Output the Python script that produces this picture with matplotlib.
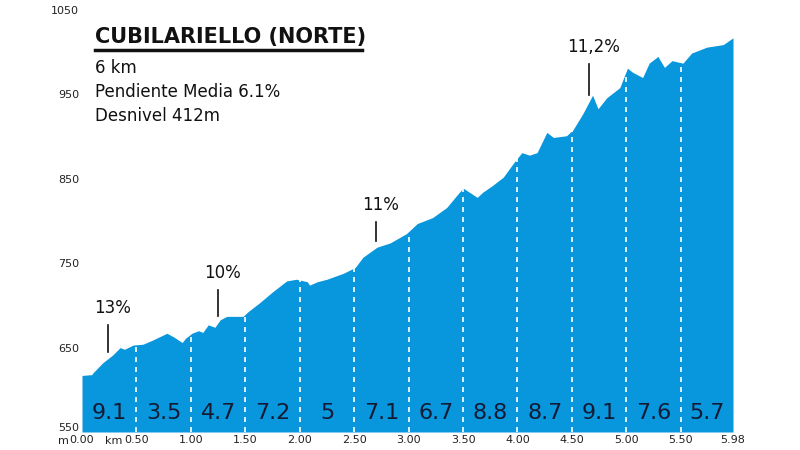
import numpy as np
import matplotlib
matplotlib.use('Agg')
import matplotlib.pyplot as plt
from matplotlib.transforms import ScaledTranslation

# profile (km, m)
dist_km = [0.00, 0.09, 0.10, 0.19, 0.28, 0.35, 0.39, 0.47, 0.56, 0.65, 0.78, 0.85,
           0.92, 0.95, 1.01, 1.07, 1.11, 1.16, 1.22, 1.27, 1.33, 1.48, 1.52, 1.63,
           1.75, 1.88, 1.97, 2.07, 2.09, 2.16, 2.25, 2.40, 2.51, 2.58, 2.71, 2.83,
           2.98, 3.08, 3.22, 3.35, 3.44, 3.50, 3.56, 3.63, 3.68, 3.77, 3.87, 3.96,
           4.04, 4.11, 4.18, 4.27, 4.33, 4.45, 4.51, 4.60, 4.69, 4.74, 4.82, 4.94,
           5.01, 5.06, 5.15, 5.21, 5.29, 5.35, 5.42, 5.52, 5.60, 5.74, 5.89, 5.98]
elev_m = [617, 618, 620, 632, 641, 650, 648, 653, 654, 659, 667, 662,
          656, 661, 667, 670, 668, 677, 674, 683, 687, 687, 692, 703,
          716, 729, 731, 728, 724, 728, 731, 738, 745, 757, 769, 774,
          785, 797, 804, 816, 830, 839, 834, 828, 834, 842, 852, 868,
          881, 878, 881, 905, 899, 901, 908, 927, 949, 933, 946, 958,
          981, 976, 970, 987, 995, 982, 990, 987, 999, 1006, 1009, 1017]

# gradient per 0.5 km section
seg_start = [0.0, 0.5, 1.0, 1.5, 2.0, 2.5, 3.0, 3.5, 4.0, 4.5, 5.0, 5.5]
seg_grade = ['9.1', '3.5', '4.7', '7.2', '5', '7.1', '6.7', '8.8', '8.7', '9.1', '7.6', '5.7']

# max-gradient call-outs: label, km, text elevation
peak_labels = ['13%', '10%', '11%', '11,2%']
peak_km = [0.24, 1.25, 2.70, 4.66]
peak_text_m = [697, 738, 819, 1006]

x_ticks = [0.0, 0.5, 1.0, 1.5, 2.0, 2.5, 3.0, 3.5, 4.0, 4.5, 5.0, 5.5, 5.98]
y_ticks = [550, 650, 750, 850, 950, 1050]
total_km = 5.98

fig = plt.figure(figsize=(8, 4.5), dpi=100)
ax = fig.add_axes([82 / 800, 18 / 450, 651 / 800, 422 / 450])

blue = '#0896dc'
ax.fill_between(dist_km, 550, elev_m, color=blue, lw=0)

# dashed white section lines
tops = np.interp(seg_start[1:], dist_km, elev_m)
ax.vlines(seg_start[1:], 550, tops, colors='white', linestyles=(0, (3, 3)), lw=1.2)

# section gradients
ends = seg_start[1:] + [total_km]
for s, e, g in zip(seg_start, ends, seg_grade):
    ax.text((s + e) / 2, 573, g, ha='center', va='center',
            fontsize=16, color='#141a33')

# call-outs
for lab, km, ty in zip(peak_labels, peak_km, peak_text_m):
    ax.text(km + 0.04, ty, lab, ha='center', va='center', fontsize=12, color='#111111')
    base = np.interp(km, dist_km, elev_m)
    ax.plot([km, km], [ty - 20, base + 8], color='#111111', lw=1.2)

ax.set_xlim(0, total_km)
ax.set_ylim(550, 1050)
ax.set_xticks(x_ticks)
ax.set_xticklabels(['%.2f' % v for v in x_ticks])
ax.set_yticks(y_ticks)
ax.set_yticklabels([str(v) for v in y_ticks])
ax.tick_params(length=0, labelsize=8, colors='#222222', pad=2)
ax.tick_params(axis='x', labelsize=8, pad=2.5)
for sp in ax.spines.values():
    sp.set_visible(False)

# lift the bottom elevation label a little so it clears the km labels
lab550 = ax.get_yticklabels()[0]
lab550.set_verticalalignment('bottom')
lab550.set_transform(lab550.get_transform() + ScaledTranslation(0, -1 / 72, fig.dpi_scale_trans))

fig.text(69 / 800, 1 - 441 / 450, 'm', ha='right', va='center', fontsize=8, color='#222222')
fig.text(122 / 800, 1 - 441 / 450, 'km', ha='right', va='center', fontsize=8, color='#222222')

# header block
fig.text(95 / 800, 1 - 37 / 450, 'CUBILARIELLO (NORTE)', ha='left', va='center',
         fontsize=15, fontweight='bold', color='#111111')
fig.add_artist(plt.Line2D([95 / 800, 362 / 800], [1 - 50 / 450, 1 - 50 / 450],
                          color='#111111', lw=2.5))
info = ['6 km', 'Pendiente Media 6.1%', 'Desnivel 412m']
for i, line in enumerate(info):
    fig.text(95 / 800, 1 - (68 + 24 * i) / 450, line, ha='left', va='center',
             fontsize=12, color='#111111')

fig.savefig('out.png', dpi=100)
